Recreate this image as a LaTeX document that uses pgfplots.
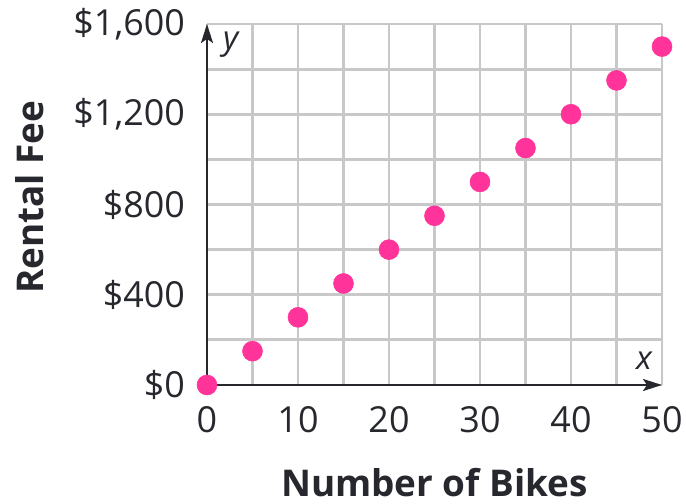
\documentclass[border=0pt]{standalone}
\usepackage{pgfplots}
\pgfplotsset{compat=1.18}
\usepackage{fontspec}
\setmainfont{Open Sans}
\usetikzlibrary{arrows.meta}
\definecolor{dotpink}{RGB}{255,51,153}
\definecolor{gridgray}{RGB}{200,200,200}
\definecolor{axisdark}{RGB}{38,40,46}
\begin{document}
\begin{tikzpicture}[x=1bp,y=1bp]
\begin{axis}[
  at={(0,0)}, anchor=south west,
  scale only axis,
  width=455bp, height=361bp,
  xmin=0, xmax=50, ymin=0, ymax=1600,
  axis line style={draw=none},
  xtick={0,5,...,50},
  xticklabels={0,,10,,20,,30,,40,,50},
  ytick={0,200,...,1600},
  yticklabels={\$0,,\$400,,\$800,,\$1{,}200,,\$1{,}600},
  major tick length=0pt,
  grid=major,
  grid style={gridgray, line width=2.8bp},
  /pgf/number format/assume math mode=true,
  tick label style={font=\fontsize{36}{40}\selectfont, text=axisdark, inner sep=0pt},
  yticklabel style={anchor=east, xshift=-22bp},
  xticklabel style={anchor=north, yshift=-21bp},
  xlabel={\textbf{Number of Bikes}},
  ylabel={\textbf{Rental Fee}},
  label style={font=\fontsize{37}{42}\selectfont, text=axisdark, inner sep=0pt},
  xlabel style={at={(axis description cs:0.5,-0.3102)}, anchor=base},
  ylabel style={at={(axis description cs:-0.3604,0.52)}, anchor=base, rotate=0},
  clip=false,
]
\draw[axisdark, line width=2.2bp, -{Stealth[length=19bp,width=12bp,inset=4bp]}] (axis cs:0,0) -- (axis cs:0,1600);
\draw[axisdark, line width=2.2bp, -{Stealth[length=19bp,width=12bp,inset=4bp]}] (axis cs:0,0) -- (axis cs:50,0);
\node[anchor=north west, font=\fontsize{33}{36}\selectfont\itshape, text=axisdark, inner sep=0pt] at (axis cs:1.76,1564) {y};
\node[anchor=south east, font=\fontsize{33}{36}\selectfont\itshape, text=axisdark, inner sep=0pt] at (axis cs:48.9,66) {x};
\addplot[only marks, mark=*, mark size=10bp, mark options={fill=dotpink, draw=dotpink, line width=0.5bp}]
  coordinates {(0,0) (5,150) (10,300) (15,450) (20,600) (25,750) (30,900) (35,1050) (40,1200) (45,1350) (50,1500)};
\end{axis}
\pgfresetboundingbox
\path (-207bp,-119bp) rectangle (479bp,385bp);
\end{tikzpicture}
\end{document}
